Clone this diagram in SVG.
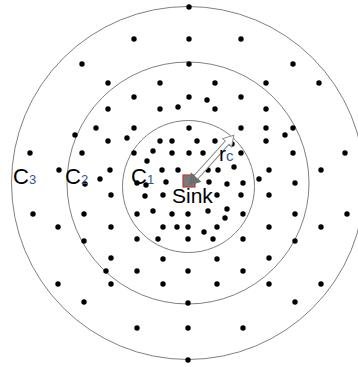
<svg xmlns="http://www.w3.org/2000/svg" width="358" height="367" viewBox="0 0 358 367">
<style>
.ring{fill:none;stroke:#7f7f7f;stroke-width:1}
.d{fill:#000}
.lbl{font-family:"Liberation Sans",Arial,sans-serif;fill:#000}
.sub{font-family:"Liberation Sans",Arial,sans-serif;fill:#2f5597}
</style>
<rect width="358" height="367" fill="#fff"/>
<g id="rings">
<circle id="C3ring" class="ring" cx="188" cy="183" r="176.5"/>
<circle id="C2ring" class="ring" cx="188" cy="183" r="121"/>
<circle id="C1ring" class="ring" cx="188.5" cy="186.5" r="66"/>
</g>
<g id="nodes" class="d">
<circle cx="134" cy="39" r="2.7"/><circle cx="82" cy="64" r="2.7"/><circle cx="108" cy="83" r="2.7"/><circle cx="160" cy="83" r="2.7"/>
<circle cx="134" cy="97" r="2.7"/><circle cx="108" cy="109" r="2.7"/><circle cx="160" cy="109" r="2.7"/><circle cx="178" cy="107" r="2.7"/>
<circle cx="96" cy="128" r="2.7"/><circle cx="134" cy="128" r="2.7"/><circle cx="75" cy="135" r="2.7"/><circle cx="108" cy="141" r="2.7"/>
<circle cx="127" cy="138" r="2.7"/><circle cx="160" cy="141" r="2.7"/><circle cx="172" cy="141" r="2.7"/><circle cx="82" cy="153" r="2.7"/>
<circle cx="30" cy="153" r="2.7"/><circle cx="134" cy="153" r="2.7"/><circle cx="153" cy="151" r="2.7"/><circle cx="172" cy="153" r="2.7"/>
<circle cx="59" cy="170" r="2.7"/><circle cx="110" cy="170" r="2.7"/><circle cx="100" cy="179" r="2.7"/><circle cx="162" cy="170" r="2.7"/>
<circle cx="147" cy="161" r="2.7"/><circle cx="178" cy="170" r="2.7"/>
<circle cx="189" cy="7" r="2.7"/><circle cx="189" cy="39" r="2.7"/><circle cx="241" cy="39" r="2.7"/><circle cx="189" cy="64" r="2.7"/>
<circle cx="293" cy="64" r="2.7"/><circle cx="215" cy="83" r="2.7"/><circle cx="266" cy="83" r="2.7"/><circle cx="319" cy="83" r="2.7"/>
<circle cx="189" cy="97" r="2.7"/><circle cx="207" cy="100" r="2.7"/><circle cx="241" cy="97" r="2.7"/><circle cx="215" cy="109" r="2.7"/>
<circle cx="266" cy="109" r="2.7"/><circle cx="189" cy="128" r="2.7"/><circle cx="241" cy="128" r="2.7"/><circle cx="266" cy="128" r="2.7"/>
<circle cx="293" cy="128" r="2.7"/><circle cx="285" cy="135" r="2.7"/><circle cx="197" cy="141" r="2.7"/><circle cx="215" cy="141" r="2.7"/>
<circle cx="266" cy="141" r="2.7"/><circle cx="232" cy="144" r="2.7"/><circle cx="189" cy="153" r="2.7"/><circle cx="203" cy="153" r="2.7"/>
<circle cx="241" cy="153" r="2.7"/><circle cx="293" cy="153" r="2.7"/><circle cx="345" cy="153" r="2.7"/><circle cx="234" cy="167" r="2.7"/>
<circle cx="208" cy="170" r="2.7"/><circle cx="218" cy="170" r="2.7"/><circle cx="269" cy="170" r="2.7"/><circle cx="321" cy="170" r="2.7"/>
<circle cx="259" cy="179" r="2.7"/>
<circle cx="85" cy="184" r="2.7"/><circle cx="137" cy="183" r="2.7"/><circle cx="146" cy="185" r="2.7"/><circle cx="166" cy="182" r="2.7"/>
<circle cx="111" cy="195" r="2.7"/><circle cx="145" cy="196" r="2.7"/><circle cx="163" cy="195" r="2.7"/><circle cx="33" cy="214" r="2.7"/>
<circle cx="84" cy="214" r="2.7"/><circle cx="137" cy="214" r="2.7"/><circle cx="153" cy="211" r="2.7"/><circle cx="172" cy="214" r="2.7"/>
<circle cx="58" cy="227" r="2.7"/><circle cx="111" cy="227" r="2.7"/><circle cx="163" cy="227" r="2.7"/><circle cx="177" cy="227" r="2.7"/>
<circle cx="84" cy="241" r="2.7"/><circle cx="137" cy="239" r="2.7"/><circle cx="158" cy="239" r="2.7"/><circle cx="111" cy="258" r="2.7"/>
<circle cx="163" cy="259" r="2.7"/><circle cx="106" cy="271" r="2.7"/><circle cx="137" cy="271" r="2.7"/><circle cx="58" cy="284" r="2.7"/>
<circle cx="111" cy="284" r="2.7"/><circle cx="163" cy="284" r="2.7"/><circle cx="84" cy="302" r="2.7"/><circle cx="137" cy="328" r="2.7"/>
<circle cx="209" cy="182" r="2.7"/><circle cx="227" cy="184" r="2.7"/><circle cx="243" cy="183" r="2.7"/><circle cx="295" cy="183" r="2.7"/>
<circle cx="217" cy="195" r="2.7"/><circle cx="241" cy="195" r="2.7"/><circle cx="269" cy="195" r="2.7"/><circle cx="188" cy="214" r="2.7"/>
<circle cx="208" cy="211" r="2.7"/><circle cx="227" cy="209" r="2.7"/><circle cx="225" cy="218" r="2.7"/><circle cx="243" cy="214" r="2.7"/>
<circle cx="295" cy="214" r="2.7"/><circle cx="347" cy="214" r="2.7"/><circle cx="188" cy="227" r="2.7"/><circle cx="204" cy="232" r="2.7"/>
<circle cx="217" cy="227" r="2.7"/><circle cx="269" cy="227" r="2.7"/><circle cx="321" cy="227" r="2.7"/><circle cx="188" cy="239" r="2.7"/>
<circle cx="213" cy="239" r="2.7"/><circle cx="243" cy="239" r="2.7"/><circle cx="295" cy="241" r="2.7"/><circle cx="217" cy="259" r="2.7"/>
<circle cx="269" cy="258" r="2.7"/><circle cx="188" cy="271" r="2.7"/><circle cx="243" cy="271" r="2.7"/><circle cx="217" cy="284" r="2.7"/>
<circle cx="269" cy="284" r="2.7"/><circle cx="321" cy="284" r="2.7"/><circle cx="295" cy="302" r="2.7"/><circle cx="188" cy="303" r="2.7"/>
<circle cx="188" cy="328" r="2.7"/><circle cx="243" cy="328" r="2.7"/><circle cx="188" cy="360" r="2.7"/>
</g>
<g id="sink">
<rect x="183" y="175" width="12" height="12" fill="#7a7a7a" stroke="#c0392b" stroke-width="1.2"/>
</g>
<g id="connectors">
<g transform="translate(189,185) rotate(-48)">
<polygon points="0,0 10,-6 10,-2.5 57,-2.5 57,-6 67,0 57,6 57,2.5 10,2.5 10,6" fill="#fff" stroke="#8a8a8a" stroke-width="1"/>
<polygon points="0,0 10,-6 10,6" fill="#6e6e6e" stroke="#6e6e6e" stroke-width="1"/>
</g>
</g>
<g id="labels">
<text class="lbl" x="13" y="183.5" font-size="22">C<tspan class="sub" font-size="13">3</tspan></text>
<text class="lbl" x="65" y="183.5" font-size="22">C<tspan class="sub" font-size="13">2</tspan></text>
<text class="lbl" x="131" y="183.5" font-size="22">C<tspan class="sub" font-size="13">1</tspan></text>
<text class="lbl" x="172" y="203" font-size="21">Sink</text>
<text class="lbl" x="219" y="161" font-size="21">r<tspan class="sub" font-size="15">c</tspan></text>
</g>
</svg>
